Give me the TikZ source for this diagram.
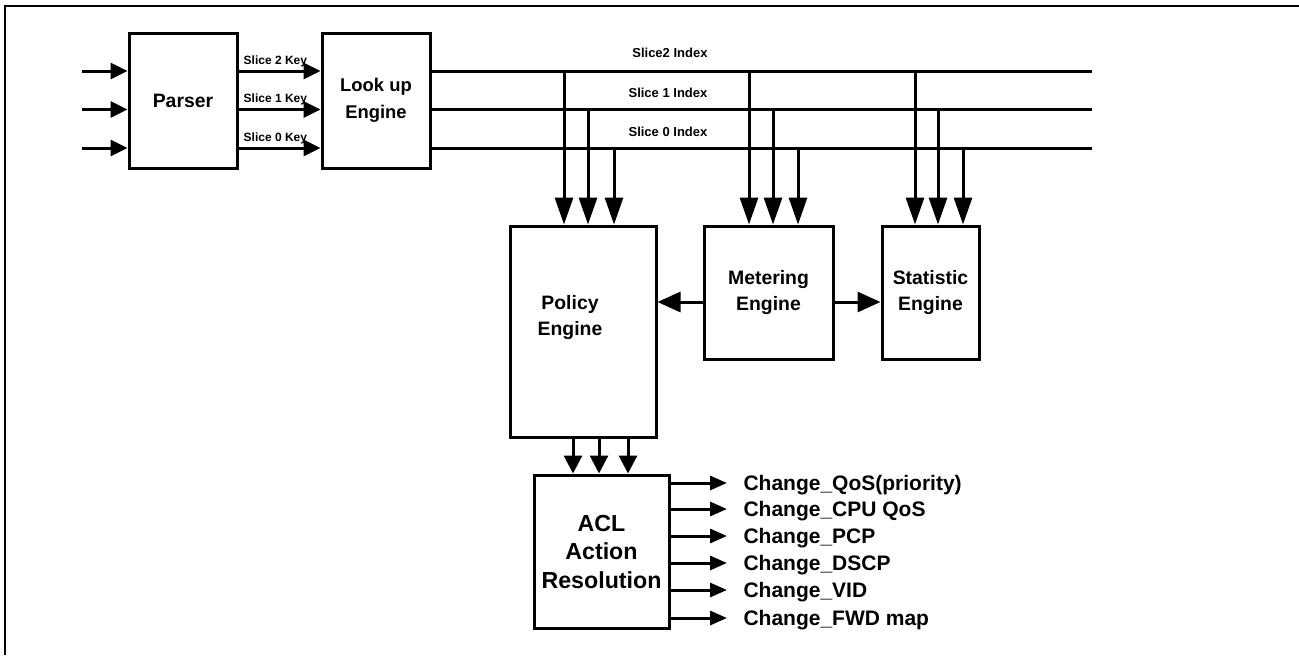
\documentclass[tikz,border=0pt]{standalone}
\usepackage{fontspec}
\setmainfont{Liberation Sans}
\usetikzlibrary{arrows.meta}

\begin{document}
\begin{tikzpicture}[->,>={Triangle[length=8.5pt,width=8pt]},x=0.5pt,y=-0.5pt,line width=1.5pt,
  block/.style={draw,rectangle,inner sep=0pt,align=center,font=\fontsize{9.7}{13}\selectfont\bfseries},
  keylbl/.style={font=\fontsize{6}{7}\selectfont\bfseries,inner sep=1.5pt},
  idxlbl/.style={font=\fontsize{6.5}{7}\selectfont\bfseries,inner sep=0pt},
  actlbl/.style={font=\fontsize{10.5}{12}\selectfont\bfseries,anchor=west,inner sep=0pt,text height=9pt,text depth=1.5pt},
  droparrow/.style={-{Triangle[length=13.5pt,width=9pt]}},
  downarrow/.style={-{Triangle[length=9pt,width=9pt]}},
  sidearrow/.style={-{Triangle[length=11.5pt,width=10pt]}},
  outarrow/.style={-{Triangle[length=8.5pt,width=7pt]},shorten >=7.5pt}]
\useasboundingbox (0,0) rectangle (1299,655);
\draw[-,line width=1pt] (5,655) -- (5,6) -- (1299,6);

\node[block,minimum width=54pt,minimum height=67.5pt] (parser) at (183,100.5) {Parser};
\node[block,minimum width=54pt,minimum height=67.5pt,font=\fontsize{9.2}{13.5}\selectfont\bfseries] (lookup) at (376,100.5) {Look up\\Engine};
\node[block,minimum width=73pt,minimum height=105.5pt] (policy) at (583,331.5) {};
\node[align=center,inner sep=0pt,font=\fontsize{9.7}{13}\selectfont\bfseries] (policytxt) at (570,318) {Policy\\Engine};
\node[block,minimum width=64.5pt,minimum height=66.5pt] (meter) at (768.5,292.5) {Metering\\Engine};
\node[block,minimum width=48.5pt,minimum height=66.5pt] (stat) at (930.5,292.5) {Statistic\\Engine};
\node[block,minimum width=67.5pt,minimum height=76.5pt,font=\fontsize{11.6}{14.25}\selectfont\bfseries] (acl) at (601.5,551.5) {ACL\\Action\\Resolution};

\node[actlbl] (qos)  at (742,483) {Change\_QoS(priority)};
\node[actlbl] (cpu)  at (742,509) {Change\_CPU QoS};
\node[actlbl] (pcp)  at (742,536) {Change\_PCP};
\node[actlbl] (dscp) at (742,563) {Change\_DSCP};
\node[actlbl] (vid)  at (742,590) {Change\_VID};
\node[actlbl] (fwd)  at (742,618) {Change\_FWD map};

\coordinate (in2) at (82,71);
\coordinate (in1) at (82,109.5);
\coordinate (in0) at (82,148);
\coordinate (bus2) at (1092,71);
\coordinate (bus1) at (1092,109.5);
\coordinate (bus0) at (1092,148);
\coordinate (mid) at (0,302);

% inputs and keys
\path   (in2) edge (in2 -| parser.west)
        (in1) edge (in1 -| parser.west)
        (in0) edge (in0 -| parser.west)
        (in2 -| parser.east) edge node[keylbl,above,pos=0.45] {Slice 2 Key} (in2 -| lookup.west)
        (in1 -| parser.east) edge node[keylbl,above,pos=0.45] {Slice 1 Key} (in1 -| lookup.west)
        (in0 -| parser.east) edge node[keylbl,above,pos=0.45] {Slice 0 Key} (in0 -| lookup.west);

% index bus
\path[-] (in2 -| lookup.east) edge node[idxlbl,above=6pt,pos=0.361] {Slice2 Index}  (bus2)
         (in1 -| lookup.east) edge node[idxlbl,above=5pt,pos=0.358] {Slice 1 Index} (bus1)
         (in0 -| lookup.east) edge node[idxlbl,above=5pt,pos=0.358] {Slice 0 Index} (bus0);

\path[droparrow]
        (564,0 |- bus2) edge (564,0 |- policy.north)
        (588,0 |- bus1) edge (588,0 |- policy.north)
        (614,0 |- bus0) edge (614,0 |- policy.north)
        (749,0 |- bus2) edge (749,0 |- meter.north)
        (773,0 |- bus1) edge (773,0 |- meter.north)
        (798,0 |- bus0) edge (798,0 |- meter.north)
        (915,0 |- bus2) edge (915,0 |- stat.north)
        (938,0 |- bus1) edge (938,0 |- stat.north)
        (963,0 |- bus0) edge (963,0 |- stat.north);

\path[sidearrow]
        (mid -| meter.west) edge (mid -| policy.east)
        (mid -| meter.east) edge (mid -| stat.west);

\path[downarrow]
        (573,0 |- policy.south) edge (573,0 |- acl.north)
        (599,0 |- policy.south) edge (599,0 |- acl.north)
        (628,0 |- policy.south) edge (628,0 |- acl.north);

\path[outarrow]
        (acl.east |- qos)  edge (qos.west)
        (acl.east |- cpu)  edge (cpu.west)
        (acl.east |- pcp)  edge (pcp.west)
        (acl.east |- dscp) edge (dscp.west)
        (acl.east |- vid)  edge (vid.west)
        (acl.east |- fwd)  edge (fwd.west);
\end{tikzpicture}
\end{document}
